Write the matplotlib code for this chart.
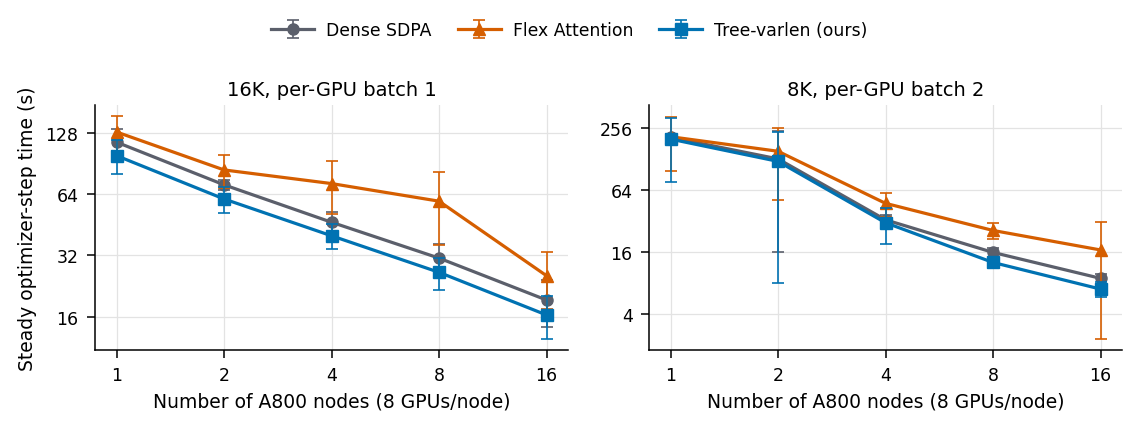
import matplotlib
matplotlib.use("Agg")
import matplotlib.pyplot as plt
from matplotlib.ticker import FixedLocator, FixedFormatter, NullLocator

# ---- data ----
nodes = [1, 2, 4, 8, 16]
node_labels = ["1", "2", "4", "8", "16"]
series_names = ["Dense SDPA", "Flex Attention", "Tree-varlen (ours)"]

# 16K, per-GPU batch 1
dense_16k = [115, 71, 46.5, 31, 19.3]
dense_16k_err = [19, 4, 6, 5.5, 5]
flex_16k = [129, 84, 72, 59, 25.4]
flex_16k_err = [25, 15.5, 21, 23, 8]
tree_16k = [98.7, 60.5, 39.9, 26.4, 16.3]
tree_16k_err = [18.7, 8.9, 5.5, 4.7, 3.9]

# 8K, per-GPU batch 2
dense_8k = [209, 129, 33, 15.9, 8.9]
dense_8k_err = [15, 113, 4, 1.5, 1.0]
flex_8k = [212, 153, 47.7, 26, 16.8]
flex_8k_err = [114, 102, 12.3, 4.6, 14.5]
tree_8k = [201, 122, 30.9, 12.7, 7.0]
tree_8k_err = [124, 114, 11.7, 1.5, 1.2]

titles = ["16K, per-GPU batch 1", "8K, per-GPU batch 2"]
yticks_16k = [16, 32, 64, 128]
yticks_8k = [4, 16, 64, 256]

colors = ["#5b5f6b", "#d55e00", "#0072b2"]
markers = ["o", "^", "s"]

plt.rcParams["font.family"] = ["DejaVu Sans"]

fig = plt.figure(figsize=(11.39, 4.31), dpi=100)
ax1 = fig.add_axes([95 / 1139, 1 - 351 / 431, 473 / 1139, 245 / 431])
ax2 = fig.add_axes([649 / 1139, 1 - 351 / 431, 473 / 1139, 245 / 431])

panels = [
    (ax1, [dense_16k, flex_16k, tree_16k], [dense_16k_err, flex_16k_err, tree_16k_err],
     yticks_16k, (10.97, 175)),
    (ax2, [dense_8k, flex_8k, tree_8k], [dense_8k_err, flex_8k_err, tree_8k_err],
     yticks_8k, (1.79, 431)),
]

handles = []
for i, (ax, vals, errs, yt, ylim) in enumerate(panels):
    ax.set_xscale("log", base=2)
    ax.set_yscale("log", base=2)
    for j in range(3):
        h = ax.errorbar(nodes, vals[j], yerr=errs[j], color=colors[j], marker=markers[j],
                        markersize=8, linewidth=2.3, elinewidth=1.2, capsize=4,
                        capthick=1.2, label=series_names[j], zorder=3 + j)
        if i == 0:
            handles.append(h)
    ax.xaxis.set_major_locator(FixedLocator(nodes))
    ax.xaxis.set_major_formatter(FixedFormatter(node_labels))
    ax.xaxis.set_minor_locator(NullLocator())
    ax.yaxis.set_major_locator(FixedLocator(yt))
    ax.yaxis.set_major_formatter(FixedFormatter([str(v) for v in yt]))
    ax.yaxis.set_minor_locator(NullLocator())
    ax.set_xlim(2 ** -0.2, 2 ** 4.2)
    ax.set_ylim(*ylim)
    ax.grid(True, color="#e3e3e3", linewidth=0.9, zorder=0)
    ax.set_axisbelow(True)
    for s in ["top", "right"]:
        ax.spines[s].set_visible(False)
    for s in ["left", "bottom"]:
        ax.spines[s].set_linewidth(1.1)
    ax.tick_params(axis="both", labelsize=12.5, width=1.1, length=5.8, pad=6)
    ax.set_title(titles[i], fontsize=14, pad=7)
    ax.set_xlabel("Number of A800 nodes (8 GPUs/node)", fontsize=13.5, labelpad=5)

ax1.set_ylabel("Steady optimizer-step time (s)", fontsize=13.5, labelpad=6)

fig.legend(handles=handles, labels=series_names, loc="center", bbox_to_anchor=(0.5, 1 - 31 / 431),
           ncol=3, frameon=False, fontsize=12.4, handlelength=2.5, columnspacing=1.5,
           handletextpad=0.7)

fig.savefig("out.png", dpi=100)
